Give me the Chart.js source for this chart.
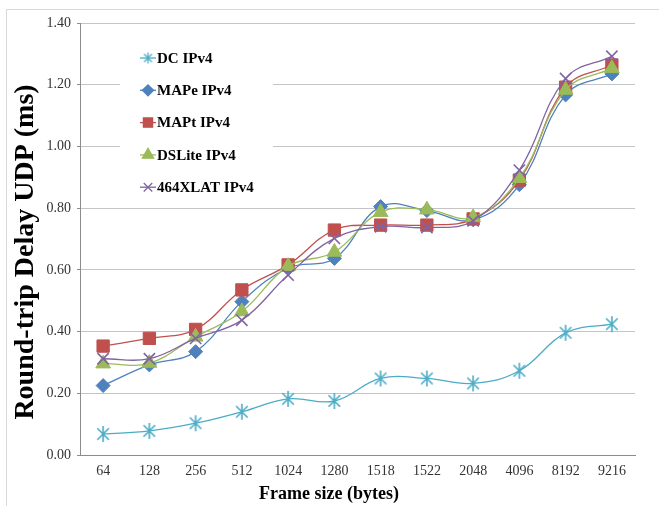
<!DOCTYPE html>
<html>
<head>
<meta charset="utf-8">
<script src="https://cdn.jsdelivr.net/npm/chart.js@4/dist/chart.umd.min.js"></script>
<style>
  html, body { margin: 0; padding: 0; background: #fff; }
  #wrap { position: relative; width: 659px; height: 506px; overflow: hidden; background: #fff; }
  #frame { position: absolute; left: 6px; top: 9px; width: 700px; height: 600px; border: 1px solid #d9d9d9; box-sizing: border-box; }
  canvas { position: absolute; left: 0; top: 0; }
</style>
</head>
<body>
<div id="wrap">
  <div id="frame"></div>
  <canvas id="c" width="659" height="506"></canvas>
</div>
<script>
const categories = ['64','128','256','512','1024','1280','1518','1522','2048','4096','8192','9216'];
const dcIPv4      = [0.068, 0.078, 0.103, 0.140, 0.182, 0.175, 0.248, 0.248, 0.232, 0.273, 0.396, 0.424];
const mapeIPv4    = [0.225, 0.292, 0.335, 0.497, 0.606, 0.637, 0.805, 0.792, 0.762, 0.876, 1.167, 1.235];
const maptIPv4    = [0.353, 0.378, 0.407, 0.535, 0.616, 0.729, 0.745, 0.745, 0.765, 0.891, 1.192, 1.264];
const dsliteIPv4  = [0.296, 0.298, 0.383, 0.465, 0.612, 0.658, 0.787, 0.795, 0.770, 0.897, 1.183, 1.253];
const xlatIPv4    = [0.312, 0.312, 0.378, 0.437, 0.583, 0.702, 0.740, 0.737, 0.759, 0.923, 1.220, 1.292];
const seriesNames = ['DC IPv4','MAPe IPv4','MAPt IPv4','DSLite IPv4','464XLAT IPv4'];
const yTicks = [0, 0.2, 0.4, 0.6, 0.8, 1.0, 1.2, 1.4];

const SERIF = '"Liberation Serif", "DejaVu Serif", serif';

function makeAsterisk(size, color, lw) {
  const cv = document.createElement('canvas');
  cv.width = size; cv.height = size;
  const g = cv.getContext('2d');
  const c = size / 2, r = size / 2 - 1;
  g.strokeStyle = color; g.lineWidth = lw; g.lineCap = 'butt';
  g.beginPath();
  g.moveTo(c, c - r); g.lineTo(c, c + r);
  const d = r * 0.72;
  g.moveTo(c - d, c - d); g.lineTo(c + d, c + d);
  g.moveTo(c + d, c - d); g.lineTo(c - d, c + d);
  g.stroke();
  return cv;
}
const astBig = makeAsterisk(18, '#4bacc6', 1.6);
const astSmall = makeAsterisk(13, '#4bacc6', 1.3);

const colors = ['#4bacc6', '#4f81bd', '#c0504d', '#9bbb59', '#8064a2'];
const styles = [astBig, 'rectRot', 'rect', 'triangle', 'crossRot'];
const radii = [9, 7, 8.7, 8.5, 8];
const legendStyles = [astSmall, 'rectRot', 'rect', 'triangle', 'crossRot'];
const legendRadii = [6.5, 5.5, 6.5, 6.5, 6];
const values = [dcIPv4, mapeIPv4, maptIPv4, dsliteIPv4, xlatIPv4];

const datasets = values.map((v, i) => ({
  label: seriesNames[i],
  data: v,
  borderColor: colors[i],
  backgroundColor: colors[i],
  borderWidth: 1.3,
  tension: 0.4,
  pointStyle: styles[i],
  pointRadius: radii[i],
  pointBorderColor: colors[i],
  pointBackgroundColor: colors[i],
  pointBorderWidth: (i === 0 || i === 4) ? 1.6 : 1,
  order: 5 - i,
  fill: false
}));

const legendPlugin = {
  id: 'customLegend',
  beforeDatasetsDraw(chart) {
    const ctx = chart.ctx;
    ctx.save();
    ctx.fillStyle = '#ffffff';
    ctx.fillRect(120, 35, 153, 168);
    const rowY = [58, 90.3, 122.6, 154.9, 187.2];
    for (let i = 0; i < 5; i++) {
      const y = rowY[i];
      ctx.strokeStyle = colors[i];
      ctx.lineWidth = 1.3;
      ctx.beginPath(); ctx.moveTo(140, y); ctx.lineTo(156, y); ctx.stroke();
      const opts = { pointStyle: legendStyles[i], radius: legendRadii[i], rotation: 0, borderWidth: 1.3 };
      ctx.fillStyle = colors[i];
      ctx.strokeStyle = colors[i];
      ctx.lineWidth = 1.3;
      Chart.helpers.drawPoint(ctx, opts, 148, y);
      ctx.fillStyle = '#000';
      ctx.font = 'bold 15px ' + SERIF;
      ctx.textBaseline = 'middle';
      ctx.textAlign = 'left';
      ctx.fillText(seriesNames[i], 157, y + 1);
    }
    ctx.restore();
  }
};

const titlePlugin = {
  id: 'titles',
  afterDraw(chart) {
    const ctx = chart.ctx;
    ctx.save();
    ctx.fillStyle = '#000';
    ctx.textAlign = 'center';
    ctx.textBaseline = 'middle';
    ctx.font = 'bold 18px ' + SERIF;
    ctx.fillText('Frame size (bytes)', 329, 494);
    ctx.translate(26, 252);
    ctx.rotate(-Math.PI / 2);
    ctx.font = 'bold 28px ' + SERIF;
    ctx.fillText('Round-trip Delay UDP (ms)', 0, 0);
    ctx.restore();
  }
};

new Chart(document.getElementById('c'), {
  type: 'line',
  data: { labels: categories, datasets },
  options: {
    responsive: false,
    animation: false,
    devicePixelRatio: 1,
    layout: { padding: { left: 0, top: 23, right: 24, bottom: 0 } },
    plugins: { legend: { display: false }, tooltip: { enabled: false }, title: { display: false } },
    scales: {
      x: {
        type: 'category',
        offset: true,
        grid: { display: false, drawTicks: false },
        border: { display: true, color: '#8c8c8c', width: 1 },
        ticks: { color: '#333', font: { family: SERIF, size: 14 }, padding: 8, maxRotation: 0, autoSkip: false },
        afterFit(s) { s.height = 51; }
      },
      y: {
        min: 0, max: 1.4,
        afterBuildTicks(s) { s.ticks = yTicks.map(v => ({ value: v })); },
        grid: { color: '#c4c4c4', lineWidth: 1, drawTicks: true, tickLength: 3, tickColor: '#8c8c8c' },
        border: { display: true, color: '#8c8c8c', width: 1 },
        ticks: { color: '#333', font: { family: SERIF, size: 14 }, padding: 6, callback: v => Number(v).toFixed(2) },
        afterFit(s) { s.width = 80; }
      }
    }
  },
  plugins: [legendPlugin, titlePlugin]
});
</script>
</body>
</html>
